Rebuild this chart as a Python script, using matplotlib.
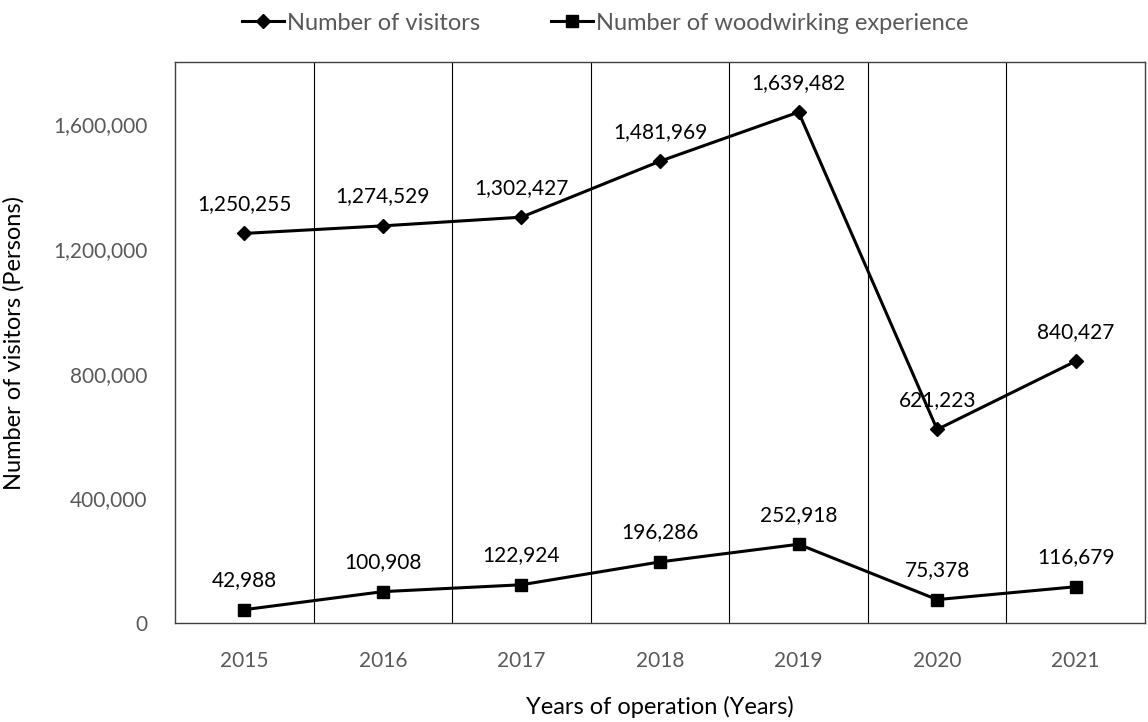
import matplotlib.pyplot as plt
from matplotlib.ticker import FuncFormatter

plt.rcParams['font.family'] = ['Lato', 'DejaVu Sans']

years = ['2015', '2016', '2017', '2018', '2019', '2020', '2021']
visitors = [1250255, 1274529, 1302427, 1481969, 1639482, 621223, 840427]
woodworking = [42988, 100908, 122924, 196286, 252918, 75378, 116679]

fig = plt.figure(figsize=(11.48, 7.22), dpi=100)
ax = fig.add_axes([0.1524, 0.137, 0.845, 0.777])

x = range(len(years))
ax.plot(x, visitors, color='black', lw=2.2, marker='D', ms=7, label='Number of visitors')
ax.plot(x, woodworking, color='black', lw=2.2, marker='s', ms=8,
        label='Number of woodwirking experience')

for i in x:
    ax.annotate(f'{visitors[i]:,}', (i, visitors[i]), xytext=(0, 14),
                textcoords='offset points', ha='center', va='bottom', fontsize=15)
    ax.annotate(f'{woodworking[i]:,}', (i, woodworking[i]), xytext=(0, 14),
                textcoords='offset points', ha='center', va='bottom', fontsize=15)

# category separators
for b in range(1, len(years)):
    ax.axvline(b - 0.5, color='black', lw=0.8)

ax.set_xlim(-0.5, len(years) - 0.5)
ax.set_ylim(0, 1800000)
ax.set_yticks([0, 400000, 800000, 1200000, 1600000])
ax.yaxis.set_major_formatter(FuncFormatter(lambda v, p: f'{int(v):,}'))
ax.set_xticks(list(x))
ax.set_xticklabels(years)
ax.tick_params(axis='both', length=0, labelsize=15, labelcolor='#595959')
ax.tick_params(axis='x', pad=20)
ax.tick_params(axis='y', pad=20)

for s in ax.spines.values():
    s.set_color('#404040')
    s.set_linewidth(1.0)

ax.set_xlabel('Years of operation (Years)', fontsize=17, labelpad=18)
ax.set_ylabel('Number of visitors (Persons)', fontsize=17, labelpad=20)

leg = fig.legend(loc='upper center', bbox_to_anchor=(0.527, 1.012), ncol=2, frameon=False,
                 fontsize=17, handlelength=1.8, handletextpad=0.1, columnspacing=3.0)
for t in leg.get_texts():
    t.set_color('#595959')

fig.savefig('out.png', dpi=100)
